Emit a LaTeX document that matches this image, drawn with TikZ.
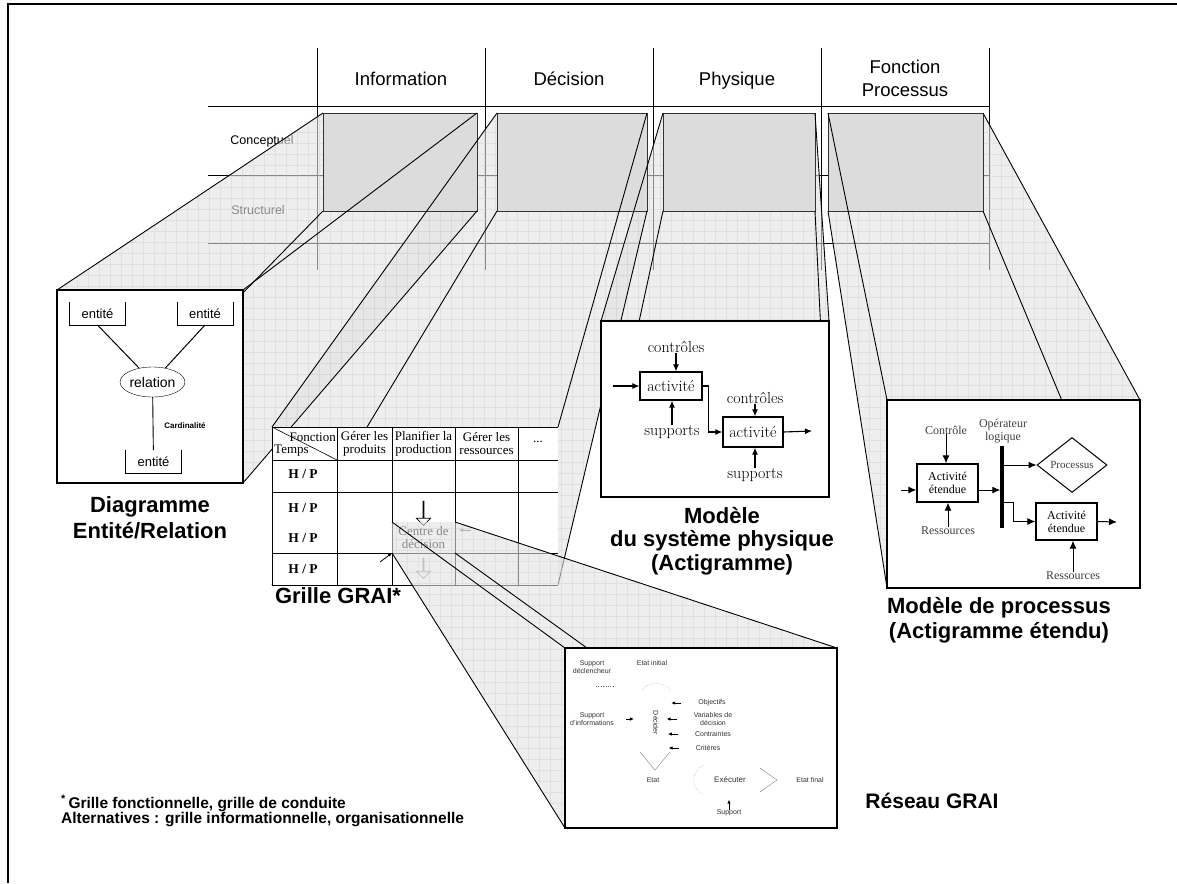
\documentclass[tikz,border=0pt]{standalone}
\usepackage{fontspec}
\setsansfont{Liberation Sans}
\newfontfamily\tms{Liberation Serif}
\usetikzlibrary{arrows.meta,positioning,shapes.geometric,shapes.arrows,calc}
\definecolor{cellgray}{HTML}{DCDCDC}
\definecolor{shadegray}{HTML}{E2E2E2}
\definecolor{gridgray}{HTML}{C8C8C8}
% projection shade: clipped fill + light grid
\newcommand{\ombrage}[1]{\begin{scope}\clip #1;\fill[ombre] (0,0) rectangle (1177,883);\draw[quadril] (0,0) grid (1177,883);\end{scope}}

\begin{document}
\begin{tikzpicture}[x=1pt,y=-1pt,font=\sffamily]
    \tikzstyle{slot}=[rectangle,inner sep=0pt,outer sep=0pt]
    \tikzstyle{cell}=[draw=black!80,line width=0.9pt,fill=cellgray]
    \tikzstyle{modele}=[draw,line width=1.1pt,fill=white]
    \tikzstyle{ombre}=[fill=shadegray,fill opacity=0.6]
    \tikzstyle{quadril}=[draw=gridgray,line width=0.3pt,opacity=0.35,step=11pt]
    \tikzstyle{proj}=[line width=0.9pt]
    \tikzstyle{hdr}=[anchor=base,font=\sffamily\fontsize{18.5}{22.5}\selectfont,align=center]
    \tikzstyle{legende}=[anchor=base,font=\sffamily\bfseries\fontsize{22}{24}\selectfont,align=center]
    \tikzstyle{ent}=[slot,font=\sffamily\fontsize{13}{15}\selectfont,minimum width=56,minimum height=23]
    \tikzstyle{tab}=[line width=1pt]
    \tikzstyle{tms}=[inner sep=0pt,align=center,font=\tms\fontsize{13}{13}\selectfont]
    \tikzstyle{act}=[draw,line width=1.3pt,inner sep=0pt,font=\fontsize{16}{17}\selectfont]
    \tikzstyle{albl}=[inner sep=0pt,font=\fontsize{16}{17}\selectfont]
    \tikzstyle{fl}=[line width=1.1pt,-{Latex[length=7pt,width=6pt]}]
    \tikzstyle{pact}=[draw,line width=1.3pt,inner sep=0pt,align=center,font=\tms\fontsize{12}{13}\selectfont]
    \tikzstyle{plbl}=[inner sep=0pt,align=center,font=\tms\fontsize{12}{13}\selectfont,text=black!75]
    \tikzstyle{pfl}=[line width=1pt,-{Latex[length=8pt,width=7pt]}]
    \tikzstyle{nlbl}=[inner sep=0pt,align=center,font=\sffamily\fontsize{7}{7.5}\selectfont,text=black!80]
    \tikzstyle{nfl}=[line width=0.8pt,-{Latex[length=4pt,width=3.5pt]}]
    \useasboundingbox (0,0) rectangle (1177,883);
    \draw[line width=2.5pt] (8,883) -- (8,4) -- (1177,4);
    % header grid
    \foreach \x in {317,485,653,821,989} \draw[line width=0.9pt] (\x,48) -- (\x,270);
    \foreach \y in {106,175,243} \draw[line width=0.9pt] (208,\y) -- (989,\y);
    \node[hdr] (tinfo) at (401,85) {Information};
    \node[hdr] (tdeci) at (569,85) {Décision};
    \node[hdr] (tphys) at (737,85) {Physique};
    \node[hdr] (tfonc) at (905,96) {Fonction\\Processus};
    \node[font=\sffamily\fontsize{12.5}{14}\selectfont] (concept) at (262,141) {Conceptuel};
    \node[font=\sffamily\fontsize{12.5}{14}\selectfont] (struct) at (258,210) {Structurel};
    % slots
    \node[slot,minimum width=154,minimum height=98] (info) at (400,162) {};
    \node[slot,minimum width=150,minimum height=98] (deci) at (572,162) {};
    \node[slot,minimum width=152,minimum height=98] (phys) at (739,162) {};
    \node[slot,minimum width=155,minimum height=98] (fonc) at (905.5,162) {};
    \node[slot,minimum width=186,minimum height=193] (er) at (150,386.5) {};
    \node[slot,minimum width=286,minimum height=158] (grille) at (415,506) {};
    \node[slot,minimum width=228,minimum height=176] (acti) at (715,409) {};
    \node[slot,minimum width=253,minimum height=188] (proc) at (1013.5,494) {};
    \node[slot,minimum width=272,minimum height=180] (reseau) at (701,738) {};
    \node[slot,minimum width=63,minimum height=31] (centre) at (423.5,537.5) {};
    % projections
    \ombrage{(info.north west) -- (info.north east) -- (info.south east) -- (er.south east) -- (er.south west) -- (er.north west) -- cycle}
    \ombrage{(deci.north west) -- (deci.north east) -- (deci.south east) -- (grille.south east) -- (grille.south west) -- (grille.north west) -- cycle}
    \ombrage{(phys.north west) -- (phys.north east) -- (acti.north east) -- (acti.south east) -- (acti.south west) -- (acti.north west) -- cycle}
    \ombrage{(fonc.north west) -- (fonc.north east) -- (proc.north east) -- (proc.south east) -- (proc.south west) -- (fonc.south west) -- cycle}
    \foreach \n in {info,deci,phys,fonc} \draw[cell] (\n.north west) rectangle (\n.south east);
    \foreach \s/\t in {info/er,deci/grille,phys/acti,fonc/proc}
      \foreach \c in {north west,north east,south west,south east} \draw[proj] (\s.\c) -- (\t.\c);
    \foreach \n in {er,acti,proc} \draw[modele] (\n.north west) rectangle (\n.south east);
    \fill[white] (grille.north west) rectangle (grille.south east);
    % entity / relation
    \node[ent] (e1) at (97.5,313.5) {entité};
    \node[ent] (e2) at (205,313.5) {entité};
    \node[ent] (e3) at (153.5,461.5) {entité};
    \foreach \n in {e1,e2,e3} \draw[line width=0.9pt] (\n.north west) -- (\n.south west) -- (\n.south east) -- (\n.north east);
    \node[draw,ellipse,inner sep=0pt,minimum width=59,minimum height=30,font=\sffamily\fontsize{14}{15}\selectfont] (rel) at (152.5,382) {relation};
    \draw[line width=1pt] (e1.south) -- (rel);
    \draw[line width=1pt] (e2.south) -- (rel);
    \draw[line width=0.9pt] (rel) -- (e3);
    \node[font=\sffamily\bfseries\fontsize{8}{9}\selectfont] (card) at (185,426) {Cardinalité};
    % GRAI grid
    \foreach \x in {272,337,392,455,518} \draw[tab] (\x,427) -- (\x,585);
    \foreach \y in {427,460,492,553,585} \draw[tab] (272,\y) -- (558,\y);
    \draw[line width=0.6pt] (272,427) -- (337,460);
    \node[tms,anchor=east] (fct) at (336,437) {Fonction};
    \node[tms,anchor=west] (tps) at (274,451) {Temps};
    \node[tms] (g1) at (364.5,443.5) {Gérer les\\produits};
    \node[tms] (g2) at (423.5,443.5) {Planifier la\\production};
    \node[tms] (g3) at (486.5,443.5) {Gérer les\\ressources};
    \node[tms] (g4) at (538,442) {...};
    \foreach \y in {474,508,538,569} \node[tms,font=\tms\bfseries\fontsize{13.5}{14}\selectfont] (hp\y) at (303,\y) {H / P};
    \node[tms] (cdd) at (423.5,537.5) {Centre de\\décision};
    \node[single arrow,draw,shape border rotate=270,inner sep=0pt,minimum width=14,single arrow head extend=4,minimum height=24,line width=0.7pt] (fl1) at (423.5,513) {};
    \node[single arrow,draw=black!45,shape border rotate=270,inner sep=0pt,minimum width=14,single arrow head extend=4,minimum height=20,line width=0.7pt] (fl2) at (423.5,568) {};
    \coordinate (fr1) at (471,530);
    \coordinate (fr2) at (459,530);
    \draw[nfl,black!60] (fr1) -- (fr2);
    \coordinate (fb1) at (380,562);
    \draw[nfl] (fb1) -- (centre.south west);
    % sub-projection to the GRAI network
    \ombrage{(centre.north west) -- (centre.north east) -- (reseau.north east) -- (reseau.south east) -- (reseau.south west) -- (centre.south west) -- cycle}
    \foreach \c in {north west,north east,south west,south east} \draw[proj] (centre.\c) -- (reseau.\c);
    \draw[modele] (reseau.north west) rectangle (reseau.south east);
    % actigram
    \node[act,minimum width=62,minimum height=28] (a1) at (671,386) {activité};
    \node[act,minimum width=60,minimum height=30] (a2) at (753,432) {activité};
    \node[albl] (c1) at (676,347) {contrôles};
    \node[albl] (s1) at (672,432) {supports};
    \node[albl] (c2) at (755,398) {contrôles};
    \node[albl] (s2) at (755,475) {supports};
    \coordinate (in1) at (613,386);
    \coordinate (out2) at (812,431);
    \draw[fl] (in1) -- (a1.west);
    \draw[fl] (a1.east) -- ++(6,0) |- (a2.west);
    \draw[fl] (a2.east) -- (out2);
    \draw[fl] (c1.south) -- (c1.south |- a1.north);
    \draw[fl] (s1.north) -- (s1.north |- a1.south);
    \draw[fl] (c2.south) -- (c2.south |- a2.north);
    \draw[fl] (s2.north) -- (s2.north |- a2.south);
    % extended actigram
    \node[pact,minimum width=61,minimum height=38] (p1) at (947.5,483) {Activité\\étendue};
    \node[pact,minimum width=61,minimum height=37] (p2) at (1066.5,521.5) {Activité\\étendue};
    \node[plbl] (ctl) at (946,430) {Contrôle};
    \node[plbl] (res1) at (948,531) {Ressources};
    \node[plbl] (res2) at (1073,576) {Ressources};
    \node[plbl] (op) at (1003,431) {Opérateur\\logique};
    \node[fill,slot,minimum width=3.5,minimum height=82] (bar) at (1002,487) {};
    \node[draw,diamond,inner sep=0pt,aspect=1.27,minimum width=70,minimum height=55,line width=1pt,font=\tms\fontsize{11}{12}\selectfont,text=black!75] (procs) at (1072,465) {Processus};
    \coordinate (pin) at (901,490);
    \coordinate (pout) at (1117,522);
    \draw[pfl] (pin) -- (pin -| p1.west);
    \draw[pfl] (p1.east |- pin) -- (pin -| bar.west);
    \draw[pfl] (bar.east |- procs) -- (procs.west);
    \draw[pfl] (bar.east |- p2.north) -- ++(10,0) |- (p2.west);
    \draw[pfl] (p2.east) -- (pout);
    \draw[pfl] (ctl.south) -- (ctl.south |- p1.north);
    \draw[pfl] (res1.north) -- (res1.north |- p1.south);
    \draw[pfl] (res2.north) -- (res2.north |- p2.south);
    % GRAI network
    \node[nlbl] (sdecl) at (592,667) {Support\\déclencheur};
    \node[nlbl] (einit) at (652,663) {Etat initial};
    \node[nlbl] (obj) at (712,703) {Objectifs};
    \node[nlbl] (vdec) at (713,719) {Variables de\\décision};
    \node[nlbl] (contr) at (713,734) {Contraintes};
    \node[nlbl] (crit) at (708,748) {Critères};
    \node[nlbl] (sinf) at (592,719) {Support\\d'informations};
    \node[nlbl,rotate=-90] (decid) at (656,723) {Décider};
    \node[nlbl] (etat) at (653,780) {Etat};
    \node[nlbl,font=\sffamily\fontsize{8}{9}\selectfont] (exec) at (730,780) {Exécuter};
    \node[nlbl] (efin) at (810,780) {Etat final};
    \node[nlbl] (supp) at (729,813) {Support};
    \foreach \n in {obj,vdec,contr,crit} \draw[nfl] ([xshift=-17]\n.west |- \n) -- ([xshift=-27]\n.west |- \n);
    \draw[nfl] ([xshift=12]sinf.east) -- ([xshift=20]sinf.east);
    \draw[nfl] (supp.north) -- ++(0,-10);
    \draw[dotted,black!60] (642,690) .. controls (648,681) and (664,681) .. (670,690);
    \draw[dotted,black!60] (596,686) -- (614,686);
    \draw[black!50,line width=0.4pt] (640,752) -- (655,770) -- (670,752);
    \draw[dotted,black!60] (704,765) .. controls (690,772) and (690,788) .. (704,795);
    \draw[black!50,line width=0.4pt] (760,768) -- (777,780) -- (760,792);
    % captions (base = last line)
    \node[legende,font=\sffamily\bfseries\fontsize{22}{26}\selectfont] (capER) at (150,538) {Diagramme\\Entité/Relation};
    \node[legende] (capGR) at (338,603) {Grille GRAI*};
    \node[legende,font=\sffamily\bfseries\fontsize{22}{23.5}\selectfont] (capAC) at (722,570) {Modèle\\du système physique\\(Actigramme)};
    \node[legende,font=\sffamily\bfseries\fontsize{22}{25}\selectfont] (capPR) at (999,638) {Modèle de processus\\(Actigramme étendu)};
    \node[legende,font=\sffamily\bfseries\fontsize{21}{24}\selectfont] (capRG) at (932,808) {Réseau GRAI};
    \node[anchor=base west,align=left,inner sep=0pt,font=\sffamily\bfseries\fontsize{15.5}{15}\selectfont] (note) at (61,823) {\textsuperscript{*}\,Grille fonctionnelle, grille de conduite\\Alternatives : grille informationnelle, organisationnelle};
\end{tikzpicture}
\end{document}
